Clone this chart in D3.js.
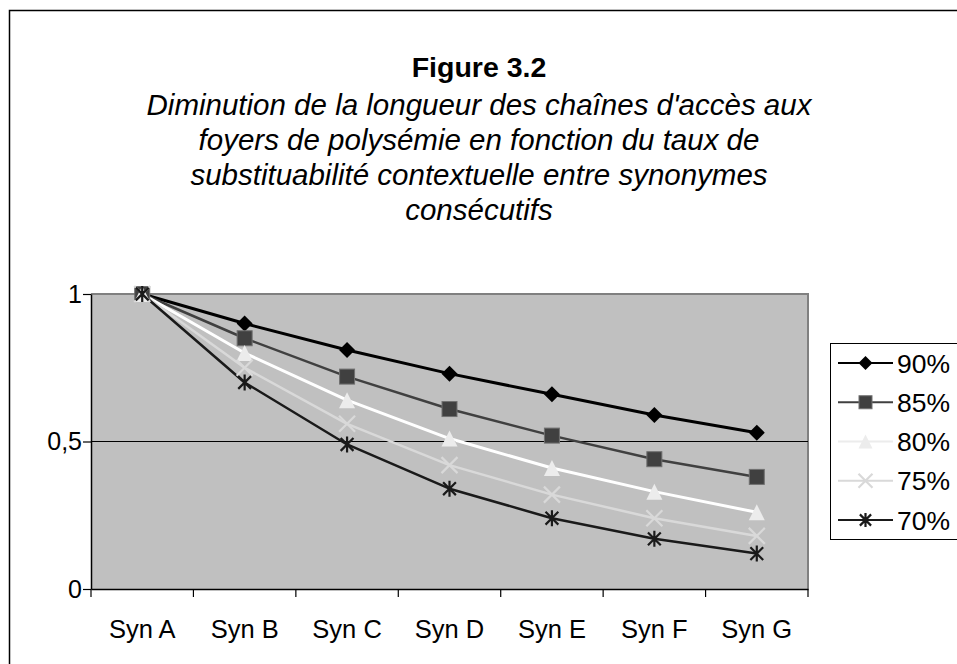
<!DOCTYPE html>
<html>
<head>
<meta charset="utf-8">
<script src="https://cdn.jsdelivr.net/npm/d3@7"></script>
<style>
  body { margin: 0; background: #fff; }
  svg { display: block; font-family: "Liberation Sans", Arial, sans-serif; }
</style>
</head>
<body>
<svg id="chart" width="957" height="664"></svg>
<script>
// Data
const categories = ["Syn A", "Syn B", "Syn C", "Syn D", "Syn E", "Syn F", "Syn G"];
const seriesNames = ["90%", "85%", "80%", "75%", "70%"];
const s90 = [1, 0.90, 0.81, 0.73, 0.66, 0.59, 0.53];
const s85 = [1, 0.85, 0.72, 0.61, 0.52, 0.44, 0.38];
const s80 = [1, 0.80, 0.64, 0.51, 0.41, 0.33, 0.26];
const s75 = [1, 0.75, 0.56, 0.42, 0.32, 0.24, 0.18];
const s70 = [1, 0.70, 0.49, 0.34, 0.24, 0.17, 0.12];
const yTicks = [0, 0.5, 1];
const titleText = "Figure 3.2";
const subtitleLines = [
  "Diminution de la longueur des chaînes d'accès aux",
  "foyers de polysémie en fonction du taux de",
  "substituabilité contextuelle entre synonymes",
  "consécutifs"
];

// Styles per series
const styles = [
  { line: "#000000", width: 3, marker: "diamond", fill: "#000000", stroke: "none" },
  { line: "#404040", width: 2.5, marker: "square", fill: "#404040", stroke: "#707070" },
  { line: "#ffffff", width: 3, marker: "triangle", fill: "#ececec", stroke: "none" },
  { line: "#d9d9d9", width: 2.5, marker: "cross", fill: "none", stroke: "#d9d9d9" },
  { line: "#1a1a1a", width: 2.5, marker: "star", fill: "none", stroke: "#1a1a1a" }
];
const seriesData = [s90, s85, s80, s75, s70];

const svg = d3.select("#chart");

// Outer frame
svg.append("rect")
  .attr("x", 9.5).attr("y", 10.5)
  .attr("width", 960).attr("height", 670)
  .attr("fill", "none")
  .attr("stroke", "#000").attr("stroke-width", 1.5);

// Titles
svg.append("text")
  .attr("x", 479).attr("y", 77)
  .attr("text-anchor", "middle")
  .attr("font-size", 28.5).attr("font-weight", "bold")
  .text(titleText);

svg.selectAll(".subtitle")
  .data(subtitleLines)
  .enter()
  .append("text")
  .attr("class", "subtitle")
  .attr("x", 479)
  .attr("y", (d, i) => 114.5 + i * 35)
  .attr("text-anchor", "middle")
  .attr("font-size", 29.5).attr("font-style", "italic")
  .text(d => d);

// Plot area
const plot = { left: 91, right: 808, top: 294, bottom: 589 };

const x = d3.scaleBand()
  .domain(categories)
  .range([plot.left, plot.right]);

const y = d3.scaleLinear()
  .domain([0, 1])
  .range([plot.bottom, plot.top]);

svg.append("rect")
  .attr("x", plot.left).attr("y", plot.top)
  .attr("width", plot.right - plot.left)
  .attr("height", plot.bottom - plot.top)
  .attr("fill", "#c0c0c0");

// gray border top/right
svg.append("path")
  .attr("d", `M${plot.left},${plot.top}H${plot.right}V${plot.bottom}`)
  .attr("fill", "none")
  .attr("stroke", "#808080").attr("stroke-width", 2);

// gridline at 0.5
svg.append("line")
  .attr("x1", plot.left).attr("x2", plot.right)
  .attr("y1", y(0.5)).attr("y2", y(0.5))
  .attr("stroke", "#000").attr("stroke-width", 1);

// Y axis
const yAxis = d3.axisLeft(y)
  .tickValues(yTicks)
  .tickFormat(d => String(d).replace(".", ","))
  .tickSize(8)
  .tickSizeOuter(0)
  .tickPadding(1);

const gy = svg.append("g")
  .attr("transform", `translate(${plot.left},0)`)
  .call(yAxis);
gy.select(".domain").attr("stroke", "#000").attr("stroke-width", 1.5);
gy.selectAll(".tick line").attr("stroke", "#000").attr("stroke-width", 1.2);
gy.selectAll("text").attr("font-size", 25).attr("fill", "#000")
  .attr("font-family", "Liberation Sans, Arial, sans-serif");

// X axis: labels centered on bands, ticks on band edges
const xAxis = d3.axisBottom(x)
  .tickSize(0)
  .tickSizeOuter(0)
  .tickPadding(31);

const gx = svg.append("g")
  .attr("transform", `translate(0,${plot.bottom})`)
  .call(xAxis);
gx.select(".domain").attr("stroke", "#000").attr("stroke-width", 1.5);
gx.selectAll("text").attr("font-size", 25.5).attr("fill", "#000")
  .attr("font-family", "Liberation Sans, Arial, sans-serif");

const edges = categories.map(c => x(c)).concat([x.range()[1]]);
gx.selectAll(".edge")
  .data(edges)
  .enter()
  .append("line")
  .attr("class", "edge")
  .attr("x1", d => d).attr("x2", d => d)
  .attr("y1", 0).attr("y2", 8)
  .attr("stroke", "#000").attr("stroke-width", 1.2);

// Marker drawing
function drawMarker(g, type, st, size) {
  const h = size / 2;
  if (type === "diamond") {
    g.append("path").attr("d", `M0,${-h}L${h},0L0,${h}L${-h},0Z`).attr("fill", st.fill);
  } else if (type === "square") {
    const s = h - 0.5;
    g.append("rect").attr("x", -s).attr("y", -s).attr("width", 2 * s).attr("height", 2 * s)
      .attr("fill", st.fill).attr("stroke", st.stroke).attr("stroke-width", 1);
  } else if (type === "triangle") {
    g.append("path").attr("d", `M0,${-h}L${h},${h}L${-h},${h}Z`).attr("fill", st.fill);
  } else if (type === "cross") {
    g.append("path").attr("d", `M${-h},${-h}L${h},${h}M${-h},${h}L${h},${-h}`)
      .attr("stroke", st.stroke).attr("stroke-width", 2.2).attr("fill", "none");
  } else if (type === "star") {
    const k = h * 0.8;
    g.append("path").attr("d", `M${-k},${-k}L${k},${k}M${-k},${k}L${k},${-k}M0,${-h}L0,${h}`)
      .attr("stroke", st.stroke).attr("stroke-width", 2.2).attr("fill", "none");
  }
}

const line = d3.line()
  .x((d, i) => x(categories[i]) + x.bandwidth() / 2)
  .y(d => y(d));

seriesData.forEach((vals, si) => {
  const st = styles[si];
  svg.append("path")
    .datum(vals)
    .attr("d", line)
    .attr("fill", "none")
    .attr("stroke", st.line)
    .attr("stroke-width", st.width)
    .attr("stroke-linejoin", "round");
});

seriesData.forEach((vals, si) => {
  const st = styles[si];
  vals.forEach((v, i) => {
    const g = svg.append("g")
      .attr("transform", `translate(${x(categories[i]) + x.bandwidth() / 2},${y(v)})`);
    drawMarker(g, st.marker, st, 16);
  });
});

// Legend
const legend = svg.append("g").attr("transform", "translate(830,343)");
legend.append("rect")
  .attr("x", 0.5).attr("y", 0.5)
  .attr("width", 160).attr("height", 196)
  .attr("fill", "#fff")
  .attr("stroke", "#000").attr("stroke-width", 1);

const legendY = d3.scalePoint()
  .domain(seriesNames)
  .range([20, 177]);

seriesNames.forEach((name, si) => {
  const st = styles[si];
  const yy = legendY(name);
  const lineColor = si === 2 ? "#ececec" : st.line;
  legend.append("line")
    .attr("x1", 8).attr("x2", 63)
    .attr("y1", yy).attr("y2", yy)
    .attr("stroke", lineColor).attr("stroke-width", 2);
  const g = legend.append("g").attr("transform", `translate(35.5,${yy})`);
  drawMarker(g, st.marker, st, 14);
  legend.append("text")
    .attr("x", 67).attr("y", yy)
    .attr("dy", "0.36em")
    .attr("font-size", 26.5)
    .text(name);
});
</script>
</body>
</html>
